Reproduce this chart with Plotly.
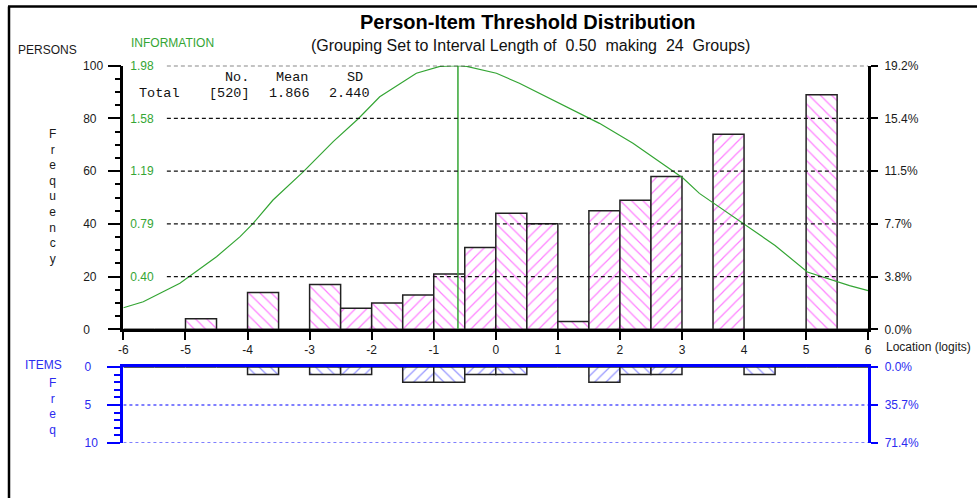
import plotly.graph_objects as go

W, H = 977, 498

# ---------------- data ----------------
bin_start = [-6.0, -5.5, -5.0, -4.5, -4.0, -3.5, -3.0, -2.5, -2.0, -1.5, -1.0, -0.5,
             0.0, 0.5, 1.0, 1.5, 2.0, 2.5, 3.0, 3.5, 4.0, 4.5, 5.0, 5.5]
bin_width = 0.5
person_counts = [0, 0, 4, 0, 14, 0, 17, 8, 10, 13, 21, 31,
                 44, 40, 3, 45, 49, 58, 0, 74, 0, 0, 89, 0]
item_counts = [0, 0, 0, 0, 1, 0, 1, 1, 0, 2, 2, 1,
               1, 0, 0, 2, 1, 1, 0, 0, 1, 0, 0, 0]

info_location = [-6.0, -5.68, -5.09, -4.5, -4.12, -3.91, -3.59, -3.10, -2.62, -2.22, -1.87,
                 -1.28, -0.9, -0.61, -0.47, 0.01, 0.38, 1.14, 1.67, 2.21, 2.74, 3.02, 3.28,
                 4.0, 4.5, 5.02, 5.52, 5.7, 6.0]
info_value = [0.162, 0.207, 0.346, 0.545, 0.696, 0.796, 0.971, 1.184, 1.41, 1.58, 1.747,
              1.923, 1.975, 1.98, 1.975, 1.923, 1.848, 1.672, 1.547, 1.397, 1.221, 1.134, 1.021,
              0.79, 0.63, 0.43, 0.355, 0.328, 0.29]
info_peak_location = -0.61
info_max = 1.98

n_persons = 520
person_mean = 1.866
person_sd = 2.440
n_items = 14

x_ticks = [-6, -5, -4, -3, -2, -1, 0, 1, 2, 3, 4, 5, 6]
persons_ticks = [0, 20, 40, 60, 80, 100]
items_ticks = [0, 5, 10]

# ---------------- styling helpers ----------------
SANS = "Arial, Liberation Sans, sans-serif"
MONO = "Courier New, Liberation Mono, monospace"
GREEN = "#34a534"
BLUE = "#0000ff"
BLUE_TXT = "#2b2bf0"
MAGENTA = "#ff00ff"
DARK = "#1a1a1a"
NB = "\u00a0"


def px(x):
    return x / W


def py(y):
    return 1 - y / H


x_dom = [px(123.3), px(868.3)]
y_dom_persons = [py(329.3), py(65.7)]
y_dom_items = [py(443.0), py(367.0)]

centers = [b + bin_width / 2 for b in bin_start]
hatch = ["\\" if i % 2 == 0 else "/" for i in range(len(bin_start))]

fig = go.Figure()

# persons histogram
fig.add_trace(go.Bar(
    x=centers, y=person_counts, width=bin_width, xaxis="x", yaxis="y",
    marker=dict(color="white", line=dict(color="#222222", width=1.5),
                pattern=dict(shape=hatch, fgcolor=MAGENTA, bgcolor="white",
                             size=8, solidity=0.15)),
    showlegend=False, hoverinfo="skip"))

# items histogram (hangs downward)
fig.add_trace(go.Bar(
    x=centers, y=item_counts, width=bin_width, xaxis="x2", yaxis="y2",
    marker=dict(color="white", line=dict(color="#222222", width=1.5),
                pattern=dict(shape=hatch, fgcolor="#2a2aff", bgcolor="white",
                             size=8, solidity=0.15)),
    showlegend=False, hoverinfo="skip"))

# information curve
fig.add_trace(go.Scatter(
    x=info_location, y=info_value, mode="lines", xaxis="x", yaxis="y4",
    line=dict(color=GREEN, width=1.2), showlegend=False, hoverinfo="skip"))
fig.add_trace(go.Scatter(
    x=[info_peak_location, info_peak_location], y=[0, info_max], mode="lines",
    xaxis="x", yaxis="y4", line=dict(color=GREEN, width=1.5),
    showlegend=False, hoverinfo="skip"))

# dummy traces so the right-hand percent axes exist
fig.add_trace(go.Scatter(x=[None], y=[None], xaxis="x", yaxis="y3",
                         showlegend=False, hoverinfo="skip"))
fig.add_trace(go.Scatter(x=[None], y=[None], xaxis="x2", yaxis="y5",
                         showlegend=False, hoverinfo="skip"))

pct_max_persons = max(persons_ticks) / n_persons * 100
pct_max_items = max(items_ticks) / n_items * 100


def pad_label(v, width):
    s = str(v)
    return s + NB * (2 * (width - len(s)))


XR = [-6.002, 6.002]

fig.update_layout(
    width=W, height=H, margin=dict(l=0, r=0, t=0, b=0, autoexpand=False),
    paper_bgcolor="white", plot_bgcolor="rgba(0,0,0,0)",
    font=dict(family=SANS, size=12, color=DARK),
    barmode="overlay",
    xaxis=dict(domain=x_dom, anchor="y", range=XR, tickmode="array",
               tickvals=x_ticks, ticktext=[str(v) for v in x_ticks],
               ticks="outside", ticklen=8, tickwidth=1.5, tickcolor="black",
               showline=True, linecolor="black", linewidth=2.5, automargin=False,
               ticklabelstandoff=0,
               showgrid=False, zeroline=False, tickfont=dict(size=12, color=DARK)),
    yaxis=dict(domain=y_dom_persons, anchor="x", range=[0, 100], tickmode="array",
               tickvals=persons_ticks, ticktext=[pad_label(v, 3) for v in persons_ticks],
               ticks="outside", ticklen=13, tickwidth=1.5, tickcolor="black",
               ticklabelstandoff=2, automargin=False,
               minor=dict(dtick=5, ticks="outside", ticklen=6, tickwidth=1.5,
                          tickcolor="black", showgrid=False),
               showline=True, linecolor="black", linewidth=2.5,
               showgrid=False, zeroline=False, tickfont=dict(size=12, color=DARK)),
    yaxis3=dict(overlaying="y", side="right", anchor="x", range=[0, pct_max_persons],
                tickmode="array", automargin=False, ticklabelstandoff=4,
                tickvals=[v / n_persons * 100 for v in persons_ticks],
                ticktext=[f"{v / n_persons * 100:.1f}%" for v in persons_ticks],
                ticks="outside", ticklen=7, tickwidth=1.5, tickcolor="black",
                showline=True, linecolor="black", linewidth=2.5,
                showgrid=False, zeroline=False, tickfont=dict(size=12, color=DARK)),
    yaxis4=dict(overlaying="y", side="left", anchor="x", range=[0, info_max],
                tickmode="array", automargin=False,
                tickvals=[info_max * v / 100 for v in persons_ticks[1:]],
                ticktext=[f"{info_max * v / 100:.2f}" for v in persons_ticks[1:]],
                ticklabelposition="inside", ticklabeloverflow="allow",
                ticklabelstandoff=4,
                ticks="", showline=False,
                showgrid=False, zeroline=False, tickfont=dict(size=12, color=GREEN)),
    xaxis2=dict(domain=x_dom, anchor="y2", matches="x", range=XR, side="top",
                showticklabels=False, ticks="", showline=True, linecolor=BLUE,
                linewidth=3, showgrid=False, zeroline=False, automargin=False),
    yaxis2=dict(domain=y_dom_items, anchor="x2", range=[10, 0], tickmode="array",
                tickvals=items_ticks, ticktext=[pad_label(v, 2) for v in items_ticks],
                ticks="outside", ticklen=13, tickwidth=2, tickcolor=BLUE,
                ticklabelstandoff=7, automargin=False,
                minor=dict(dtick=1, ticks="outside", ticklen=6, tickwidth=1.5,
                           tickcolor=BLUE, showgrid=False),
                showline=True, linecolor=BLUE, linewidth=3,
                showgrid=False, zeroline=False, tickfont=dict(size=12, color=BLUE_TXT)),
    yaxis5=dict(overlaying="y2", side="right", anchor="x2", range=[pct_max_items, 0],
                tickmode="array", automargin=False, ticklabelstandoff=4,
                tickvals=[v / n_items * 100 for v in items_ticks],
                ticktext=[f"{v / n_items * 100:.1f}%" for v in items_ticks],
                ticks="outside", ticklen=7, tickwidth=2, tickcolor=BLUE,
                showline=True, linecolor=BLUE, linewidth=3,
                showgrid=False, zeroline=False, tickfont=dict(size=12, color=BLUE_TXT)),
)

# dashed gridlines
shapes = []
for v in persons_ticks[1:]:
    shapes.append(dict(type="line", xref="x", yref="y", x0=-5.3, x1=6, y0=v, y1=v,
                       line=dict(color="#111111", width=1.3, dash="4px,3px")))
for v in items_ticks[1:]:
    shapes.append(dict(type="line", xref="x2", yref="y2", x0=-6, x1=6, y0=v, y1=v,
                       line=dict(color=BLUE, width=1.2, dash="3px,3px")))
# outer frame
shapes.append(dict(type="line", xref="paper", yref="paper", x0=px(8), x1=1.0,
                   y0=py(6.5), y1=py(6.5), line=dict(color="black", width=2.5)))
shapes.append(dict(type="line", xref="paper", yref="paper", x0=px(9), x1=px(9),
                   y0=py(6.5), y1=0, line=dict(color="black", width=2.5)))
fig.update_layout(shapes=shapes)


def ann(text, x, y, size=12, color=DARK, xanchor="left", family=SANS, bold=False):
    if bold:
        text = f"<b>{text}</b>"
    fig.add_annotation(text=text, x=px(x), y=py(y), xref="paper", yref="paper",
                       showarrow=False, xanchor=xanchor, yanchor="middle",
                       font=dict(family=family, size=size, color=color))


ann("Person-Item Threshold Distribution", 528, 22, size=20, color="black",
    xanchor="center", bold=True)
ann(f"(Grouping Set to Interval Length of {NB}{bin_width:.2f}{NB} making {NB}"
    f"{len(bin_start)}{NB} Groups)", 530, 45, size=16, color="#111111", xanchor="center")
ann("PERSONS", 16, 50, size=12)
ann("INFORMATION", 129, 43, size=12, color=GREEN)
ann("<br>".join("Frequency"), 52, 196, size=12, xanchor="center")
ann("ITEMS", 23, 365, size=12, color=BLUE_TXT)
ann("<br>".join("Freq"), 52, 406, size=12, color=BLUE_TXT, xanchor="center")
ann("Location (logits)", 884, 347, size=12)

# summary statistics box
ann("No.", 223, 78, size=13.5, family=MONO, color="#111111")
ann("Mean", 274, 78, size=13.5, family=MONO, color="#111111")
ann("SD", 345, 78, size=13.5, family=MONO, color="#111111")
ann("Total", 137, 93, size=13.5, family=MONO, color="#111111")
ann(f"[{n_persons}]", 207, 93, size=13.5, family=MONO, color="#111111")
ann(f"{person_mean:.3f}", 267, 93, size=13.5, family=MONO, color="#111111")
ann(f"{person_sd:.3f}", 327, 93, size=13.5, family=MONO, color="#111111")

fig.write_html("out.html", config={"displayModeBar": False},
               post_script="document.body.style.margin='0';")
